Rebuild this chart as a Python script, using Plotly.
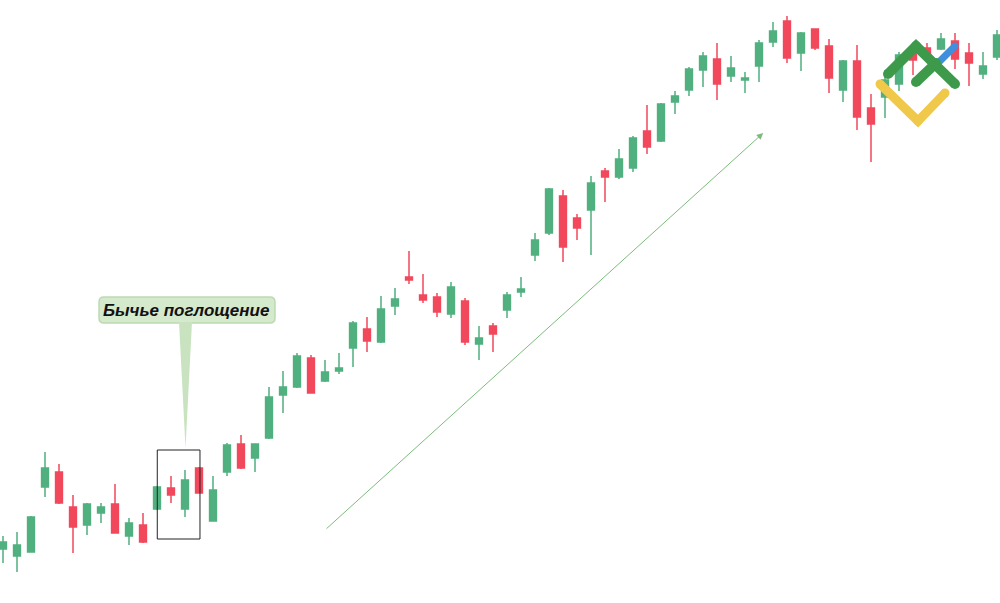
import plotly.graph_objects as go

# ---- data (candle index, OHLC in chart price units) ----
idx = list(range(72))
open_ = [54, 47, 51, 116, 131, 96, 78, 90, 99, 67, 78, 94, 115, 94, 135, 82, 131, 159, 145, 165,
         208, 216, 245, 222, 232, 255, 274, 261, 297, 326, 308, 306, 289, 302, 259, 277, 293, 311, 348, 370,
         407, 385, 393, 432, 426, 435, 472, 462, 501, 513, 533, 544, 527, 523, 537, 561, 582, 550, 574, 557,
         513, 542, 495, 506, 519, 553, 555, 554, 562, 550, 529, 546]
high = [67, 71, 87, 151, 139, 108, 100, 100, 119, 85, 90, 117, 127, 133, 136, 127, 160, 168, 159, 216,
        232, 250, 248, 243, 250, 282, 286, 307, 315, 352, 329, 310, 321, 305, 277, 280, 311, 326, 370, 415,
        413, 389, 427, 435, 454, 467, 498, 500, 512, 536, 551, 560, 547, 531, 563, 581, 587, 571, 574, 564,
        543, 558, 509, 533, 551, 560, 560, 570, 570, 560, 551, 573]
low = [40, 31, 51, 106, 99, 50, 68, 80, 70, 58, 60, 93, 100, 86, 110, 82, 127, 134, 131, 164,
       190, 215, 210, 221, 229, 236, 251, 260, 288, 319, 300, 286, 285, 258, 243, 251, 285, 306, 342, 368,
       341, 363, 348, 401, 424, 431, 449, 461, 489, 507, 516, 503, 521, 510, 521, 556, 540, 532, 553, 510,
       501, 473, 441, 485, 512, 528, 540, 553, 534, 517, 524, 543]
close = [61, 58, 86, 135, 100, 76, 99, 96, 70, 80, 61, 116, 108, 123, 110, 113, 158, 135, 159, 206,
         216, 247, 210, 231, 235, 280, 262, 294, 304, 323, 303, 291, 316, 261, 265, 269, 308, 314, 363, 414,
         356, 375, 420, 426, 444, 465, 456, 499, 507, 534, 547, 519, 535, 525, 560, 572, 545, 570, 555, 525,
         542, 486, 479, 523, 548, 543, 545, 564, 544, 540, 537, 568]

pattern_span = [11.02, 14.07]      # candles framed as the engulfing pattern
pattern_range = [64, 153]
trend_start = [23.0, 73]
trend_end = [54.3, 470]
label_text = "Бычье поглощение"

GREEN = "#50b07f"
RED = "#f1485c"

W, H = 1000, 603


def px(x):
    return x / W


def py(y):
    return 1 - y / H


fig = go.Figure()
fig.add_trace(go.Candlestick(
    x=idx, open=open_, high=high, low=low, close=close,
    increasing=dict(line=dict(color=GREEN, width=1.5), fillcolor=GREEN),
    decreasing=dict(line=dict(color=RED, width=1.5), fillcolor=RED),
    whiskerwidth=0, showlegend=False, hoverinfo="skip",
))

shapes = []
# engulfing-pattern frame
shapes.append(dict(type="rect", xref="x", yref="y",
                   x0=pattern_span[0], x1=pattern_span[1], y0=pattern_range[0], y1=pattern_range[1],
                   line=dict(color="#222222", width=1), fillcolor="rgba(0,0,0,0)", layer="above"))

# callout box (rounded) and pointer
bx0, by0, bx1, by1, r = 99, 297, 275, 323, 5
path = (f"M {px(bx0 + r)},{py(by0)} L {px(bx1 - r)},{py(by0)} "
        f"Q {px(bx1)},{py(by0)} {px(bx1)},{py(by0 + r)} L {px(bx1)},{py(by1 - r)} "
        f"Q {px(bx1)},{py(by1)} {px(bx1 - r)},{py(by1)} L {px(bx0 + r)},{py(by1)} "
        f"Q {px(bx0)},{py(by1)} {px(bx0)},{py(by1 - r)} L {px(bx0)},{py(by0 + r)} "
        f"Q {px(bx0)},{py(by0)} {px(bx0 + r)},{py(by0)} Z")
shapes.append(dict(type="path", xref="paper", yref="paper", path=path,
                   fillcolor="#d5e9cd", line=dict(color="#bcdab2", width=1.5), layer="above"))
tri = f"M {px(179)},{py(322)} L {px(192)},{py(322)} L {px(185.5)},{py(448)} Z"
shapes.append(dict(type="path", xref="paper", yref="paper", path=tri,
                   fillcolor="#c9e3c0", line=dict(width=0), layer="above"))


# logo
def stroke(points, color, w):
    p = "M " + " L ".join(f"{px(a)},{py(b)}" for a, b in points)
    shapes.append(dict(type="path", xref="paper", yref="paper", path=p,
                       line=dict(color=color, width=w), layer="above"))
    for a, b in points:
        shapes.append(dict(type="circle", xref="paper", yref="paper",
                           x0=px(a - w / 2), x1=px(a + w / 2), y0=py(b + w / 2), y1=py(b - w / 2),
                           fillcolor=color, line=dict(width=0), layer="above"))


LG, LY, LB = "#3d9a4a", "#f0c84a", "#3f8fdc"
stroke([(880, 84), (918, 121), (945, 93)], LY, 9)
stroke([(936, 65), (955, 46)], LB, 7)
stroke([(888, 74), (916, 46), (955, 84)], LG, 10)
stroke([(916, 82), (936, 63)], LG, 10)

annotations = [
    dict(xref="paper", yref="paper", x=px(186), y=py(310), text=f"<b><i>{label_text}</i></b>",
         showarrow=False, font=dict(family="Liberation Sans, Arial", size=17, color="#111111"),
         xanchor="center", yanchor="middle"),
    dict(xref="x", yref="y", axref="x", ayref="y",
         x=trend_end[0], y=trend_end[1], ax=trend_start[0], ay=trend_start[1],
         showarrow=True, arrowhead=2, arrowsize=1.3, arrowwidth=1, arrowcolor="#7dbb7d", text=""),
]

fig.update_layout(
    width=W, height=H, autosize=False,
    margin=dict(l=0, r=0, t=0, b=0),
    paper_bgcolor="white", plot_bgcolor="white",
    xaxis=dict(range=[-3 / 14, 997 / 14], visible=False, rangeslider=dict(visible=False), fixedrange=True),
    yaxis=dict(range=[0, 603], visible=False, fixedrange=True),
    boxgap=0.3,
    shapes=shapes, annotations=annotations,
    showlegend=False,
)

fig.write_html("out.html", config={"displayModeBar": False},
               post_script="document.body.style.margin='0';document.body.style.overflow='hidden';")
